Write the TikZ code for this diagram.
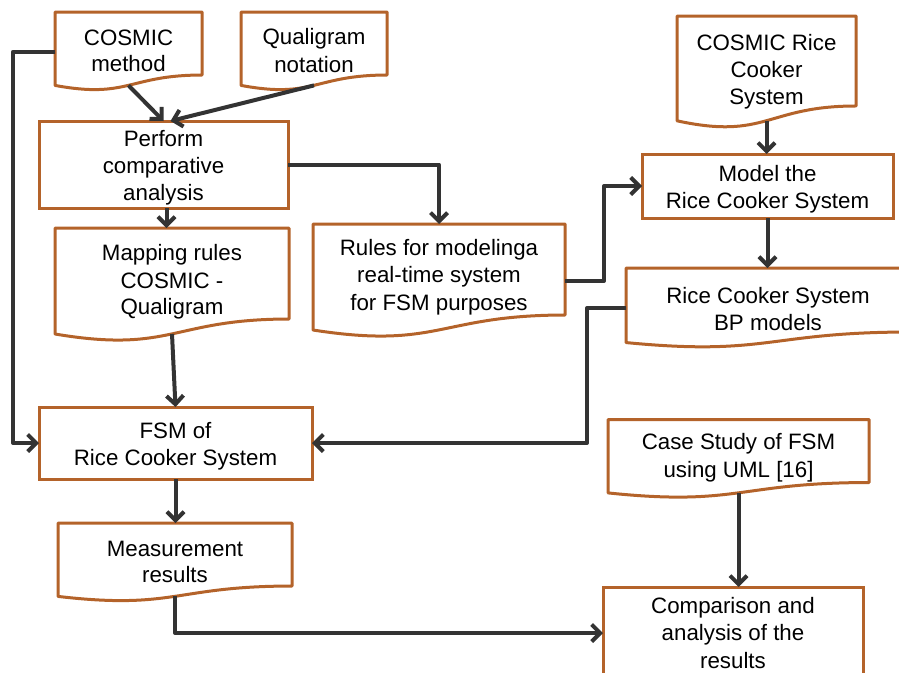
\documentclass[tikz,border=0pt]{standalone}
\usepackage{fontspec}
\setmainfont{Liberation Sans}
\usetikzlibrary{arrows.meta,calc}
\definecolor{brd}{HTML}{B4632A}
\definecolor{ln}{HTML}{333333}
\newcommand\docout[1]{%
  \draw[outl] (#1.north east) -- ($(#1.north east)!0.8587!(#1.south east)$)
    .. controls ($(#1.north)!0.8587!(#1.south)$) and ($(#1.north)!1.1857!(#1.south)$) .. (#1.south west)
    -- (#1.north west) -- cycle;}
\newcommand\tl[2][0pt]{\setbox\strutbox\hbox{\vrule height 23pt depth 3.7pt width 0pt}%
  \raisebox{#1}[\height][\depth]{\begin{tabular}{@{}c@{}}#2\end{tabular}}}
\begin{document}
\begin{tikzpicture}[x=1pt,y=-1pt,
  box/.style={draw=brd,line width=3pt,rectangle,inner sep=0pt,outer sep=0pt,
    font=\fontsize{22.3}{26.7}\selectfont,text=black},
  doc/.style={box,draw=none},
  outl/.style={draw=brd,line width=3pt,line join=round},
  arr/.style={draw=ln,line width=4pt,line join=round,-{Straight Barb[length=8.5pt,width=17pt]}}]
\useasboundingbox (0,0) rectangle (899,672);
\clip (0,0) rectangle (899,672);

\node[doc,minimum width=147pt,minimum height=73.4pt] (cm) at (128.5,48.7) {\tl{COSMIC\\method}};
\node[doc,minimum width=146pt,minimum height=73.4pt] (qn) at (314,48.7) {\tl{Qualigram\\notation}};
\node[box,minimum width=249pt,minimum height=87pt] (pf) at (163.5,164.5) {\tl{Perform\\comparative\\analysis}};
\node[doc,minimum width=234pt,minimum height=106pt] (mp) at (172,281) {\tl[2.5pt]{Mapping rules\\COSMIC -\\Qualigram}};
\node[doc,minimum width=252pt,minimum height=106pt] (ru) at (439,277) {\tl[3.5pt]{Rules for modelinga\\real-time system\\for FSM purposes}};
\node[doc,minimum width=179pt,minimum height=104.8pt] (crc) at (766.5,68.4) {\tl{COSMIC Rice\\Cooker\\System}};
\node[box,minimum width=251pt,minimum height=64pt] (md) at (767.5,186) {\tl{Model the\\Rice Cooker System}};
\node[doc,minimum width=284pt,minimum height=74.5pt] (bp) at (768,305.3) {\tl[-2pt]{Rice Cooker System\\BP models}};
\node[box,minimum width=273pt,minimum height=72pt] (fsm) at (175.5,443) {\tl{FSM of\\Rice Cooker System}};
\node[doc,minimum width=234pt,minimum height=73.4pt] (ms) at (175,559.7) {\tl{Measurement\\results}};
\node[doc,minimum width=261pt,minimum height=73.4pt] (cs) at (738.5,456.2) {\tl[2pt]{Case Study of FSM\\using UML [16]}};
\node[box,minimum width=260pt,minimum height=92pt] (cmp) at (733,633) {\tl[2pt]{Comparison and\\analysis of the\\results}};

\foreach \n in {cm,qn,mp,ru,crc,bp,ms,cs} {\docout{\n}}

\draw[arr] (cm.south) -- (pf.north);
\draw[arr] (qn.south) -- ([xshift=7pt]pf.north);
\draw[arr] ([yshift=-3pt]cm.west) -- ++(-42,0) |- (fsm.west);
\draw[arr] ([xshift=3pt]pf.south) -- ([xshift=3pt]pf.south |- mp.north);
\draw[arr] (pf.east) -| (ru.north);
\draw[arr] ([yshift=-4pt]ru.east) -- ++(39,0) |- (md.west);
\draw[arr] (crc.south) -- (crc.south |- md.north);
\draw[arr] (md.south) -- (md.south |- bp.north);
\draw[arr] ([yshift=-3pt]bp.west) -- ++(-39,0) |- (fsm.east);
\draw[arr] (mp.south) -- (fsm.north);
\draw[arr] (fsm.south) -- (fsm.south |- ms.north);
\draw[arr] (ms.south) |- (cmp.west);
\draw[arr] (cs.south) -- (cs.south |- cmp.north);
\end{tikzpicture}
\end{document}
